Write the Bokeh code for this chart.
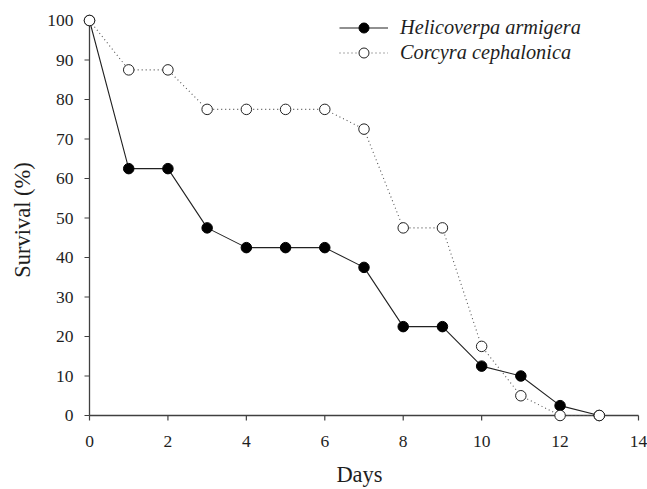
from bokeh.plotting import figure
from bokeh.models import Legend, LegendItem, Range1d, FixedTicker
from bokeh.embed import file_html
from bokeh.resources import INLINE

days = list(range(14))
helicoverpa = [100, 62.5, 62.5, 47.5, 42.5, 42.5, 42.5, 37.5, 22.5, 22.5, 12.5, 10, 2.5, 0]
corcyra = [100, 87.5, 87.5, 77.5, 77.5, 77.5, 77.5, 72.5, 47.5, 47.5, 17.5, 5, 0, 0]
x_ticks = [0, 2, 4, 6, 8, 10, 12, 14]
y_ticks = [0, 10, 20, 30, 40, 50, 60, 70, 80, 90, 100]

FONT = "Liberation Serif"
AX = "#404040"
TXT = "#1e1e1e"

# pixel scale (px per data unit) used only to pad the ranges so edge markers are not clipped
PX_X = 39.2
PX_Y = 3.95
x0, x1 = x_ticks[0], x_ticks[-1]
y0, y1 = y_ticks[0], y_ticks[-1]

p = figure(width=647, height=489, output_backend="svg", toolbar_location=None,
           x_range=Range1d(x0 - 12 / PX_X, x1 + 3 / PX_X),
           y_range=Range1d(y0 - 12 / PX_Y, y1 + 8 / PX_Y),
           min_border_left=77, min_border_right=6, min_border_top=12, min_border_bottom=62)
p.outline_line_color = None
p.grid.grid_line_color = None
p.background_fill_color = "white"
p.border_fill_color = "white"

for ax in (p.xaxis[0], p.yaxis[0]):
    ax.axis_line_color = None
    ax.major_tick_line_color = None
    ax.major_tick_in = 0
    ax.major_tick_out = 0
    ax.minor_tick_line_color = None
    ax.major_label_text_font = FONT
    ax.major_label_text_font_size = "17.5px"
    ax.major_label_text_color = TXT
    ax.axis_label_text_font = FONT
    ax.axis_label_text_font_size = "22.5px"
    ax.axis_label_text_font_style = "normal"
    ax.axis_label_text_color = TXT

p.xaxis.ticker = FixedTicker(ticks=x_ticks)
p.yaxis.ticker = FixedTicker(ticks=y_ticks)
p.xaxis.major_label_standoff = 8
p.yaxis.major_label_standoff = 4
p.yaxis.axis_label = "Survival (%)"
p.yaxis.axis_label_standoff = 9
p.xaxis.axis_label = "Days"
p.xaxis.axis_label_standoff = 12

# axis lines and outward ticks at data zero
tick_len_x = 5 / PX_Y
tick_len_y = 5 / PX_X
p.segment(x0=[x0], y0=[y0], x1=[x1], y1=[y0], line_color=AX, line_width=1.3)
p.segment(x0=[x0], y0=[y0], x1=[x0], y1=[y1], line_color=AX, line_width=1.3)
p.segment(x0=x_ticks, y0=[y0] * len(x_ticks), x1=x_ticks, y1=[y0 - tick_len_x] * len(x_ticks),
          line_color=AX, line_width=1.2)
p.segment(x0=[x0] * len(y_ticks), y0=y_ticks, x1=[x0 - tick_len_y] * len(y_ticks), y1=y_ticks,
          line_color=AX, line_width=1.2)

l1 = p.line(days, helicoverpa, line_color="#222222", line_width=1.1)
m1 = p.scatter(days, helicoverpa, size=10.5, fill_color="black", line_color="black")
l2 = p.line(days, corcyra, line_color="#555555", line_width=1.1, line_dash="1 3")
m2 = p.scatter(days, corcyra, size=10.5, fill_color="white", line_color="#222222", line_width=1)

# smaller legend-only markers (a single NaN point, so nothing is drawn in the plot)
nan = float("nan")
lm1 = p.scatter(x=[nan], y=[nan], size=7.5, fill_color="black", line_color="black")
lm2 = p.scatter(x=[nan], y=[nan], size=7.5, fill_color="white", line_color="#222222", line_width=1)

legend = Legend(items=[LegendItem(label="Helicoverpa armigera", renderers=[l1, lm1]),
                       LegendItem(label="Corcyra cephalonica", renderers=[l2, lm2])],
                location=(262, 362))
legend.label_text_font = FONT
legend.label_text_font_style = "italic"
legend.label_text_font_size = "20.3px"
legend.label_text_color = TXT
legend.border_line_color = None
legend.background_fill_alpha = 0
legend.glyph_width = 49
legend.glyph_height = 25
legend.label_height = 25
legend.label_standoff = 12
legend.spacing = 0
legend.padding = 0
legend.margin = 0
p.add_layout(legend, "center")

open("out.html", "w").write(file_html(p, INLINE))
